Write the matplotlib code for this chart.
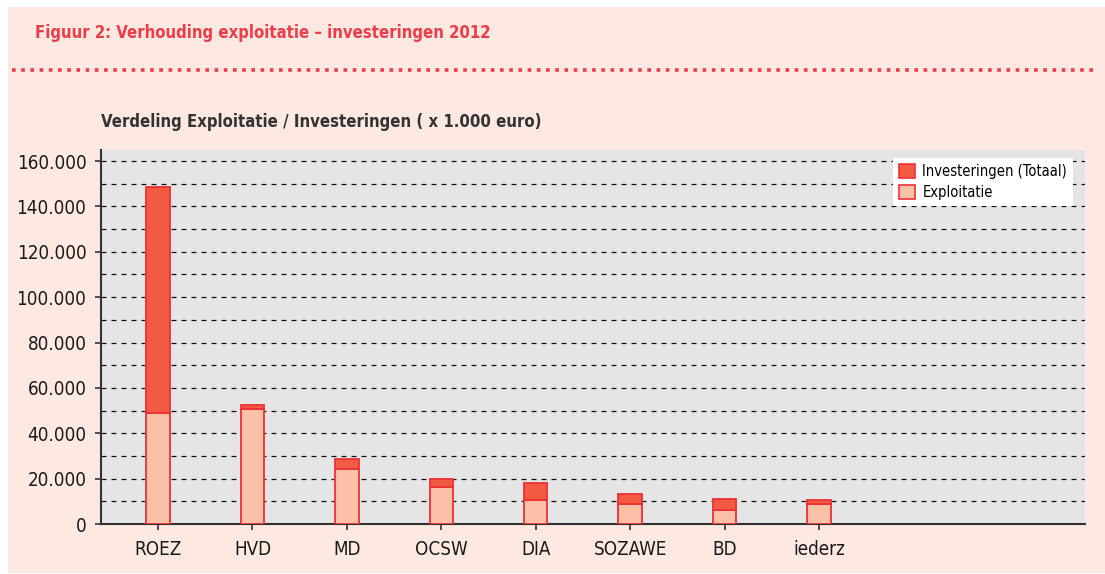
import matplotlib
matplotlib.use("Agg")
import matplotlib.pyplot as plt
from matplotlib import font_manager
from matplotlib.font_manager import FontProperties
from matplotlib.patches import Rectangle, Patch
from matplotlib.lines import Line2D

categories = ["ROEZ", "HVD", "MD", "OCSW", "DIA", "SOZAWE", "BD", "iederz"]
exploitatie = [48800, 50600, 24200, 16500, 10700, 8800, 6300, 8800]
investeringen = [99900, 1700, 4300, 3300, 7200, 4600, 4900, 1600]
yticks = [0, 20000, 40000, 60000, 80000, 100000, 120000, 140000, 160000]
ytick_labels = ["0", "20.000", "40.000", "60.000", "80.000", "100.000", "120.000", "140.000", "160.000"]


def is_narrow(f):
    s = (f.name + " " + f.fname).lower()
    st = str(f.stretch).lower()
    return ("narrow" in s or "condensed" in s or "condensed" in st) and "extra" not in st \
        and "italic" not in s and "oblique" not in s and f.style == "normal"


def wt(f):
    w = f.weight
    if isinstance(w, str):
        w = {"bold": 700, "normal": 400, "regular": 400, "book": 400}.get(w.lower(), 400)
    return w


cands = [f for f in font_manager.fontManager.ttflist if is_narrow(f)]
pref = ["liberation", "dejavu", "roboto", "open", "noto", "lato"]


def pick(bold):
    best = None
    for p in pref:
        for f in cands:
            if p in f.name.lower():
                if (wt(f) >= 600) == bold:
                    if best is None:
                        best = f
        if best is not None:
            return FontProperties(fname=best.fname)
    for f in cands:
        if (wt(f) >= 600) == bold:
            return FontProperties(fname=f.fname)
    return None


fp_reg = pick(False)
fp_bold = pick(True)
narrow = fp_reg is not None
if fp_reg is None:
    fp_reg = FontProperties(family="Liberation Sans")
if fp_bold is None:
    fp_bold = FontProperties(family="Liberation Sans", weight="bold")
k = 1.0 if narrow else 0.85


def fp(base, size):
    p = base.copy()
    p.set_size(size * k)
    return p


W, H = 1105, 574
fig = plt.figure(figsize=(W / 100, H / 100), dpi=100)
fig.patch.set_facecolor("white")

fig.add_artist(Rectangle((8 / W, 1 - 573 / H), (W - 8) / W, (573 - 7) / H,
                         transform=fig.transFigure, facecolor="#FDE8E2",
                         edgecolor="none", zorder=0))
fig.add_artist(Line2D([12 / W, 1096 / W], [1 - 70 / H, 1 - 70 / H],
                      transform=fig.transFigure, color="#EE3B45", lw=2.6,
                      linestyle=(0, (1, 1.55)), zorder=1))

fig.text(35 / W, 1 - 33 / H, "Figuur 2: Verhouding exploitatie \u2013 investeringen 2012",
         color="#EE3D48", fontproperties=fp(fp_bold, 12.0), va="center", ha="left")
fig.text(101 / W, 1 - 122 / H, "Verdeling Exploitatie / Investeringen ( x 1.000 euro)",
         color="#333333", fontproperties=fp(fp_bold, 12.0), va="center", ha="left")

ax = fig.add_axes([101 / W, (574 - 524) / H, 984 / W, 374 / H])
ax.set_facecolor("#E5E5E5")
x = list(range(len(categories)))
bw = 0.247
ax.bar(x, exploitatie, width=bw, color="#FBC0A8", edgecolor="#EE3035", linewidth=1.3,
       label="Exploitatie", zorder=3)
ax.bar(x, investeringen, width=bw, bottom=exploitatie, color="#F25A41",
       edgecolor="#EE3035", linewidth=1.3, label="Investeringen (Totaal)", zorder=3)

ax.set_xlim(-0.604, 9.817)
ax.set_ylim(0, 164850)
ax.set_yticks(yticks)
ax.set_yticklabels(ytick_labels, fontproperties=fp(fp_reg, 13.5), color="#1a1a1a")
ax.set_yticks(range(10000, 160001, 20000), minor=True)
ax.set_xticks(x)
ax.set_xticklabels(categories, fontproperties=fp(fp_reg, 13.5), color="#1a1a1a")
ax.yaxis.grid(True, which="both", color="#111111", linestyle=(0, (4, 4)), linewidth=0.9, zorder=1)
ax.set_axisbelow(True)
ax.tick_params(axis="y", which="major", length=4.5, width=1.2, color="#333333", pad=6)
ax.tick_params(axis="y", which="minor", length=0)
ax.tick_params(axis="x", length=4.5, width=1.2, color="#333333", pad=7)
for s in ["top", "right"]:
    ax.spines[s].set_visible(False)
for s in ["left", "bottom"]:
    ax.spines[s].set_color("#333333")
    ax.spines[s].set_linewidth(1.5)

handles = [Patch(facecolor="#F25A41", edgecolor="#EE3035", lw=1.2),
           Patch(facecolor="#FBC0A8", edgecolor="#EE3035", lw=1.2)]
leg = ax.legend(handles, ["Investeringen (Totaal)", "Exploitatie"],
                loc="upper right", bbox_to_anchor=((1073 - 101) / 984, (524 - 158) / 374),
                frameon=True, fancybox=False, framealpha=1, edgecolor="white",
                prop=fp(fp_reg, 10.5), handlelength=1.1, handleheight=1.1, handletextpad=0.5,
                borderpad=0.4, labelspacing=0.45, borderaxespad=0)
leg.get_frame().set_linewidth(0)
leg.set_zorder(5)

fig.savefig("out.png", dpi=100, facecolor=fig.get_facecolor())
